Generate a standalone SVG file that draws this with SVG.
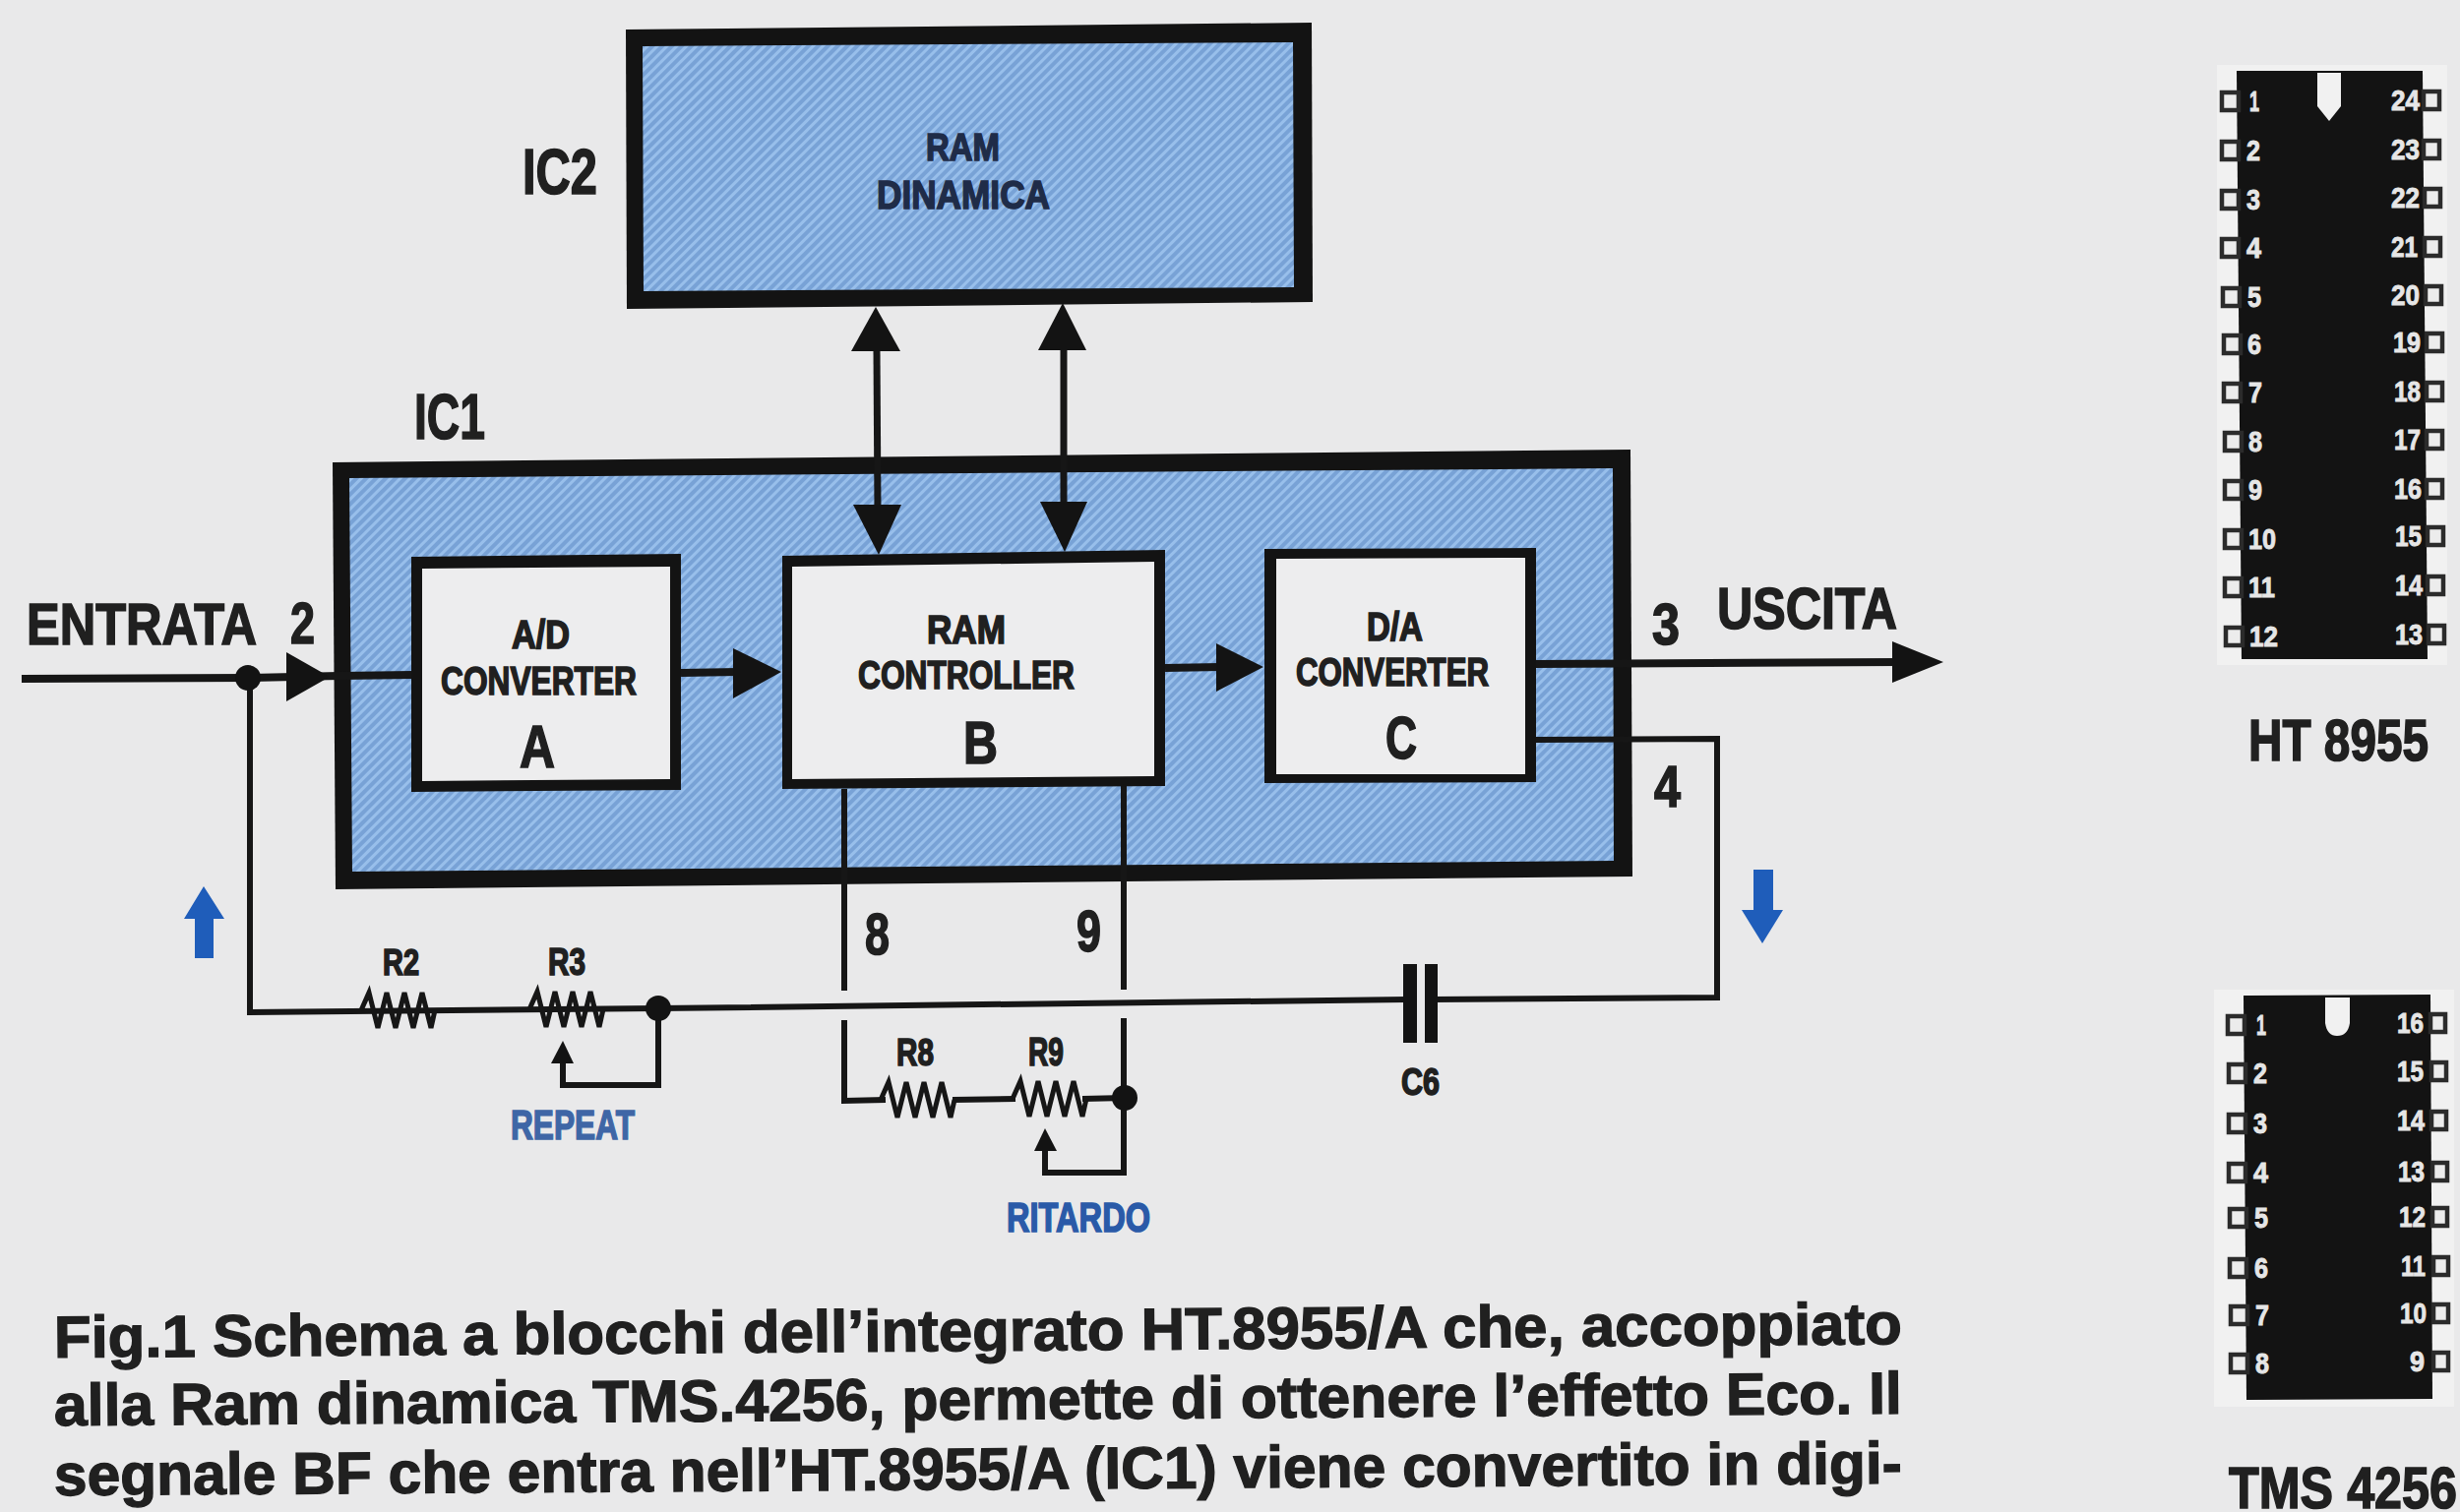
<svg xmlns="http://www.w3.org/2000/svg" xmlns:xlink="http://www.w3.org/1999/xlink" width="2500" height="1537" viewBox="0 0 2500 1537">
<style>
text{font-family:"Liberation Sans",Arial,sans-serif;font-weight:700;fill:#202020;stroke:#202020;stroke-width:1.6}
.b{fill:#1f2c48;stroke:#1f2c48}
.cap{stroke-width:1.3}
.w{fill:#e6e6e6;stroke:#e6e6e6;font-size:29px;stroke-width:.9}
.wire{fill:none;stroke:#161616;stroke-width:7}
.thin{fill:none;stroke:#161616;stroke-width:6;stroke-linejoin:miter}
.k{fill:#131313}
.pin{fill:#ececec;stroke:#2b2b2b;stroke-width:4.5}
.pale{fill:#f1f1f1}
.paper{fill:#ededee}
</style>
<defs>
<pattern id="hatch" width="7" height="7" patternUnits="userSpaceOnUse" patternTransform="rotate(-45)">
<rect width="7" height="7" fill="#78a2d6"/>
<rect width="7" height="3" fill="#98bfeb"/>
</pattern>
<path id="res" d="M0,19 L8,1 L17,37 L26,1 L35,37 L44,1 L53,37 L62,1 L71,37 L75,19" fill="none" stroke="#161616" stroke-width="5"/>
</defs>
<rect width="2500" height="1537" fill="#e9e9ea"/>
<rect class="pale" x="2253" y="66" width="234" height="610"/>
<rect class="pale" x="2250" y="1006" width="244" height="424"/>

<g id="IC2">
<polygon class="k" points="636,30 1333,23 1334,307 637,314"/>
<polygon fill="url(#hatch)" points="653,47 1314,43 1315,292 654,296"/>
<text x="941" y="163" font-size="39" textLength="75" lengthAdjust="spacingAndGlyphs" class="b">RAM</text>
<text x="891" y="212" font-size="41" textLength="176" lengthAdjust="spacingAndGlyphs" class="b">DINAMICA</text>
<text x="531" y="197" font-size="64" textLength="76" lengthAdjust="spacingAndGlyphs">IC2</text>
</g>

<g id="IC1">
<polygon class="k" points="338,470 1657,457 1659,891 341,904"/>
<polygon fill="url(#hatch)" points="355,486 1639,476 1640,875 358,886"/>
<text x="421" y="446" font-size="64" textLength="72" lengthAdjust="spacingAndGlyphs">IC1</text>
</g>

<g id="connectors">
<path class="wire" d="M22,690 L252,689 L345,687 L420,686" style="stroke-width:8"/>
<path class="wire" d="M692,684 L750,683" style="stroke-width:8"/>
<path class="wire" d="M1184,679 L1240,678" style="stroke-width:8"/>
<path class="wire" d="M1561,675 L1930,673" style="stroke-width:8"/>
<path class="thin" d="M1561,752 L1745,751 L1745,1014 L1455,1016"/>
<path class="thin" d="M1430,1016 L669,1025 L254,1029 L254,690"/>
<path class="thin" d="M858,802 L858,1007 M858,1037 L858,1119 L900,1118"/>
<path class="thin" d="M968,1118 L1032,1117 M1100,1117 L1143,1116"/>
<path class="thin" d="M1142,799 L1142,1006 M1142,1035 L1142,1192 L1062,1192 L1062,1168"/>
<path class="thin" d="M669,1025 L669,1103 L572,1103 L572,1079"/>
<path class="wire" d="M891,355 L892,520"/>
<path class="wire" d="M1081,355 L1081,515"/>
<g class="k">
<polygon points="890,312 915,357 865,357"/>
<polygon points="1080,308 1104,356 1055,356"/>
<polygon points="867,513 916,513 893,564"/>
<polygon points="1057,510 1105,510 1082,561"/>
<polygon points="291,663 335,688 291,713"/>
<polygon points="745,659 794,683 745,710"/>
<polygon points="1236,654 1284,678 1236,703"/>
<polygon points="1923,652 1975,673 1923,694"/>
<polygon points="572,1058 583,1081 560,1081"/>
<polygon points="1062,1147 1074,1170 1051,1170"/>
<circle cx="252" cy="689" r="13"/>
<circle cx="669" cy="1025" r="13"/>
<circle cx="1143" cy="1116" r="13"/>
<rect x="1426" y="980" width="14" height="80"/>
<rect x="1448" y="980" width="13" height="80"/>
</g>
<use href="#res" x="367" y="1008"/>
<use href="#res" x="538" y="1007"/>
<use href="#res" x="895" y="1099"/>
<use href="#res" x="1029" y="1098"/>
<polygon points="207,901 228,934 217,934 217,974 198,974 198,934 187,934" fill="#1f5dba"/>
<polygon points="1791,959 1812,925 1802,925 1802,884 1782,884 1782,925 1770,925" fill="#1f5dba"/>
</g>

<g id="A">
<polygon class="k" points="418,566 692,563 692,803 418,805"/>
<polygon class="paper" points="429,578 681,576 681,792 429,794"/>
<text x="520" y="659" font-size="40" textLength="59" lengthAdjust="spacingAndGlyphs">A/D</text>
<text x="448" y="706" font-size="41" textLength="199" lengthAdjust="spacingAndGlyphs">CONVERTER</text>
<text x="528" y="780" font-size="62" textLength="36" lengthAdjust="spacingAndGlyphs">A</text>
</g>
<g id="B">
<polygon class="k" points="795,565 1184,559 1184,799 795,802"/>
<polygon class="paper" points="805,576 1173,571 1173,789 805,792"/>
<text x="942" y="654" font-size="40" textLength="80" lengthAdjust="spacingAndGlyphs">RAM</text>
<text x="872" y="700" font-size="41" textLength="220" lengthAdjust="spacingAndGlyphs">CONTROLLER</text>
<text x="979" y="776" font-size="62" textLength="35" lengthAdjust="spacingAndGlyphs">B</text>
</g>
<g id="C">
<polygon class="k" points="1285,558 1561,557 1561,795 1285,796"/>
<polygon class="paper" points="1297,568 1550,567 1550,787 1297,787"/>
<text x="1389" y="651" font-size="40" textLength="57" lengthAdjust="spacingAndGlyphs">D/A</text>
<text x="1317" y="697" font-size="41" textLength="196" lengthAdjust="spacingAndGlyphs">CONVERTER</text>
<text x="1408" y="771" font-size="62" textLength="32" lengthAdjust="spacingAndGlyphs">C</text>
</g>

<g id="labels">
<text x="27" y="655" font-size="60" textLength="234" lengthAdjust="spacingAndGlyphs">ENTRATA</text>
<text x="295" y="654" font-size="60" textLength="25" lengthAdjust="spacingAndGlyphs">2</text>
<text x="1679" y="655" font-size="60" textLength="28" lengthAdjust="spacingAndGlyphs">3</text>
<text x="1745" y="639" font-size="60" textLength="183" lengthAdjust="spacingAndGlyphs">USCITA</text>
<text x="1681" y="820" font-size="60" textLength="27" lengthAdjust="spacingAndGlyphs">4</text>
<text x="879" y="970" font-size="60" textLength="25" lengthAdjust="spacingAndGlyphs">8</text>
<text x="1094" y="967" font-size="60" textLength="25" lengthAdjust="spacingAndGlyphs">9</text>
<text x="389" y="991" font-size="36" textLength="37" lengthAdjust="spacingAndGlyphs">R2</text>
<text x="557" y="991" font-size="38" textLength="38" lengthAdjust="spacingAndGlyphs">R3</text>
<text x="911" y="1083" font-size="38" textLength="38" lengthAdjust="spacingAndGlyphs">R8</text>
<text x="1045" y="1083" font-size="40" textLength="36" lengthAdjust="spacingAndGlyphs">R9</text>
<text x="1424" y="1113" font-size="38" textLength="39" lengthAdjust="spacingAndGlyphs">C6</text>
<text x="519" y="1158" font-size="43" textLength="126" lengthAdjust="spacingAndGlyphs" style="fill:#3f66a6;stroke:#3f66a6">REPEAT</text>
<text x="1023" y="1252" font-size="42" textLength="146" lengthAdjust="spacingAndGlyphs" style="fill:#2a5aa8;stroke:#2a5aa8">RITARDO</text>
</g>

<g id="caption">
<text class="cap" x="55" y="1380" font-size="60" textLength="1878" lengthAdjust="spacingAndGlyphs" transform="rotate(-.42 55 1380)">Fig.1 Schema a blocchi dell’integrato HT.8955/A che, accoppiato</text>
<text class="cap" x="55" y="1449" font-size="60" textLength="1878" lengthAdjust="spacingAndGlyphs" transform="rotate(-.37 55 1449)">alla Ram dinamica TMS.4256, permette di ottenere l’effetto Eco. Il</text>
<text class="cap" x="55" y="1520" font-size="60" textLength="1878" lengthAdjust="spacingAndGlyphs" transform="rotate(-.37 55 1520)">segnale BF che entra nell’HT.8955/A (IC1) viene convertito in digi-</text>
</g>

<g id="HT8955">
<polygon class="k" points="2273,72 2462,72 2467,670 2278,670"/>
<path class="pale" d="M2355,74 H2379 V108 L2367,123 L2355,108 Z"/>
<g class="pin">
<rect x="2258" y="94" width="17" height="18"/><rect x="2258" y="144" width="17" height="18"/><rect x="2258" y="194" width="17" height="18"/><rect x="2258" y="243" width="17" height="18"/><rect x="2259" y="293" width="17" height="18"/><rect x="2260" y="341" width="17" height="18"/>
<rect x="2260" y="390" width="17" height="18"/><rect x="2261" y="440" width="17" height="18"/><rect x="2261" y="489" width="17" height="18"/><rect x="2261" y="539" width="17" height="18"/><rect x="2261" y="588" width="17" height="18"/><rect x="2262" y="638" width="17" height="18"/>
<rect x="2463" y="93" width="16" height="18"/><rect x="2463" y="143" width="16" height="18"/><rect x="2464" y="192" width="16" height="18"/><rect x="2464" y="242" width="16" height="18"/><rect x="2465" y="291" width="16" height="18"/><rect x="2466" y="339" width="16" height="18"/>
<rect x="2466" y="389" width="16" height="18"/><rect x="2466" y="438" width="16" height="18"/><rect x="2466" y="488" width="16" height="18"/><rect x="2467" y="536" width="16" height="18"/><rect x="2467" y="586" width="16" height="18"/><rect x="2468" y="636" width="16" height="18"/>
</g>
<g text-anchor="start">
<text class="w" x="2286" y="113" textLength="10" lengthAdjust="spacingAndGlyphs">1</text><text class="w" x="2283" y="163" textLength="14" lengthAdjust="spacingAndGlyphs">2</text><text class="w" x="2283" y="213" textLength="14" lengthAdjust="spacingAndGlyphs">3</text><text class="w" x="2283" y="262" textLength="15" lengthAdjust="spacingAndGlyphs">4</text><text class="w" x="2284" y="312" textLength="14" lengthAdjust="spacingAndGlyphs">5</text><text class="w" x="2284" y="360" textLength="14" lengthAdjust="spacingAndGlyphs">6</text>
<text class="w" x="2285" y="409" textLength="14" lengthAdjust="spacingAndGlyphs">7</text><text class="w" x="2285" y="459" textLength="14" lengthAdjust="spacingAndGlyphs">8</text><text class="w" x="2285" y="508" textLength="14" lengthAdjust="spacingAndGlyphs">9</text><text class="w" x="2285" y="558" textLength="28" lengthAdjust="spacingAndGlyphs">10</text><text class="w" x="2285" y="607" textLength="27" lengthAdjust="spacingAndGlyphs">11</text><text class="w" x="2286" y="657" textLength="29" lengthAdjust="spacingAndGlyphs">12</text>
<text class="w" x="2430" y="112" textLength="29" lengthAdjust="spacingAndGlyphs">24</text><text class="w" x="2430" y="162" textLength="29" lengthAdjust="spacingAndGlyphs">23</text><text class="w" x="2430" y="211" textLength="29" lengthAdjust="spacingAndGlyphs">22</text><text class="w" x="2430" y="261" textLength="27" lengthAdjust="spacingAndGlyphs">21</text><text class="w" x="2430" y="310" textLength="29" lengthAdjust="spacingAndGlyphs">20</text><text class="w" x="2432" y="358" textLength="28" lengthAdjust="spacingAndGlyphs">19</text>
<text class="w" x="2433" y="408" textLength="27" lengthAdjust="spacingAndGlyphs">18</text><text class="w" x="2433" y="457" textLength="27" lengthAdjust="spacingAndGlyphs">17</text><text class="w" x="2433" y="507" textLength="28" lengthAdjust="spacingAndGlyphs">16</text><text class="w" x="2434" y="555" textLength="27" lengthAdjust="spacingAndGlyphs">15</text><text class="w" x="2434" y="605" textLength="28" lengthAdjust="spacingAndGlyphs">14</text><text class="w" x="2434" y="655" textLength="28" lengthAdjust="spacingAndGlyphs">13</text>
</g>
<text x="2285" y="773" font-size="60" textLength="183" lengthAdjust="spacingAndGlyphs">HT 8955</text>
</g>

<g id="TMS4256">
<polygon class="k" points="2280,1012 2470,1011 2472,1422 2283,1423"/>
<path class="pale" d="M2363,1014 H2388 V1040 Q2386,1053 2375,1053 Q2365,1053 2363,1040 Z"/>
<g class="pin">
<rect x="2264" y="1033" width="17" height="18"/><rect x="2265" y="1082" width="17" height="18"/><rect x="2265" y="1133" width="17" height="18"/><rect x="2265" y="1183" width="17" height="18"/><rect x="2266" y="1229" width="17" height="18"/><rect x="2266" y="1280" width="17" height="18"/><rect x="2267" y="1328" width="17" height="18"/><rect x="2267" y="1377" width="17" height="18"/>
<rect x="2470" y="1031" width="15" height="18"/><rect x="2471" y="1080" width="15" height="18"/><rect x="2471" y="1130" width="15" height="18"/><rect x="2472" y="1182" width="15" height="18"/><rect x="2472" y="1228" width="15" height="18"/><rect x="2473" y="1278" width="15" height="18"/><rect x="2473" y="1326" width="15" height="18"/><rect x="2473" y="1375" width="15" height="18"/>
</g>
<text class="w" x="2293" y="1052" textLength="10" lengthAdjust="spacingAndGlyphs">1</text><text class="w" x="2290" y="1101" textLength="14" lengthAdjust="spacingAndGlyphs">2</text><text class="w" x="2290" y="1152" textLength="14" lengthAdjust="spacingAndGlyphs">3</text><text class="w" x="2290" y="1202" textLength="15" lengthAdjust="spacingAndGlyphs">4</text><text class="w" x="2291" y="1248" textLength="14" lengthAdjust="spacingAndGlyphs">5</text><text class="w" x="2291" y="1299" textLength="14" lengthAdjust="spacingAndGlyphs">6</text><text class="w" x="2292" y="1347" textLength="14" lengthAdjust="spacingAndGlyphs">7</text><text class="w" x="2292" y="1396" textLength="14" lengthAdjust="spacingAndGlyphs">8</text>
<text class="w" x="2436" y="1050" textLength="27" lengthAdjust="spacingAndGlyphs">16</text><text class="w" x="2436" y="1099" textLength="27" lengthAdjust="spacingAndGlyphs">15</text><text class="w" x="2436" y="1149" textLength="28" lengthAdjust="spacingAndGlyphs">14</text><text class="w" x="2437" y="1201" textLength="27" lengthAdjust="spacingAndGlyphs">13</text><text class="w" x="2438" y="1247" textLength="27" lengthAdjust="spacingAndGlyphs">12</text><text class="w" x="2440" y="1297" textLength="25" lengthAdjust="spacingAndGlyphs">11</text><text class="w" x="2439" y="1345" textLength="27" lengthAdjust="spacingAndGlyphs">10</text><text class="w" x="2449" y="1394" textLength="15" lengthAdjust="spacingAndGlyphs">9</text>
<text x="2265" y="1533" font-size="60" textLength="232" lengthAdjust="spacingAndGlyphs">TMS 4256</text>
</g>
</svg>
